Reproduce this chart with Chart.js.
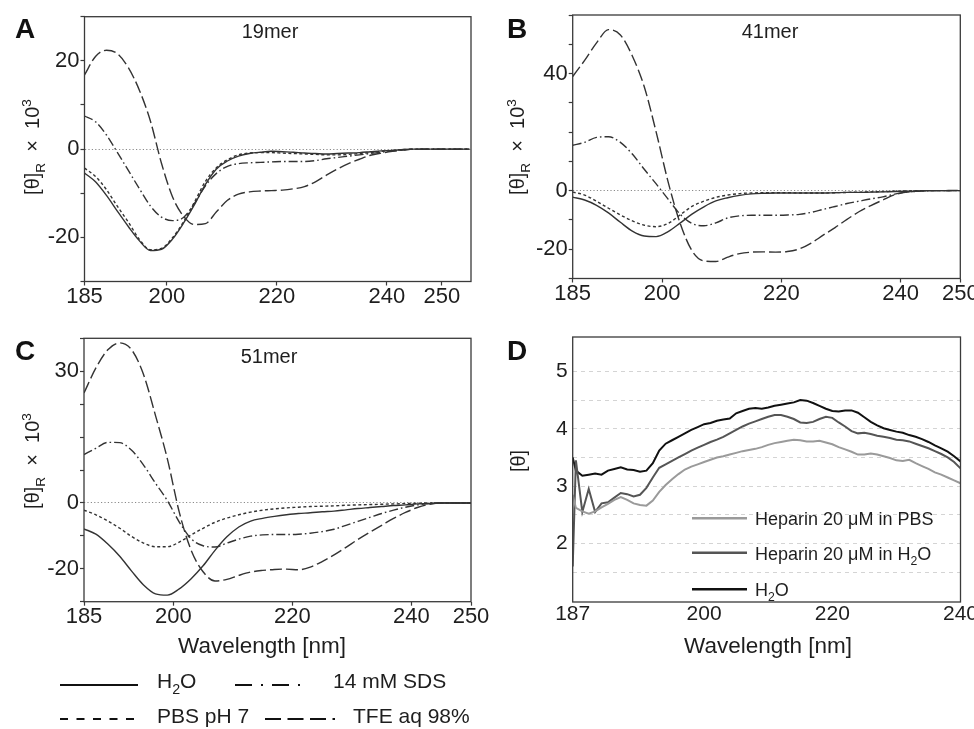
<!DOCTYPE html>
<html><head><meta charset="utf-8">
<script src="https://cdn.jsdelivr.net/npm/chart.js@4.4.1/dist/chart.umd.min.js"></script>
<style>
html,body{margin:0;padding:0;background:#fff;}
body{width:974px;height:729px;position:relative;overflow:hidden;}
canvas{position:absolute;}
</style></head><body>
<canvas id="cA"></canvas><canvas id="cB"></canvas><canvas id="cC"></canvas><canvas id="cD"></canvas>
<script>
// ================= DATA =================
const wavelengthsA = [185,187,189,191,193,195,197,199,201,203,205,207,209,211,213,215,217,219,221,223,225,227,229,231,233,235,237,239,241,243,245,247,249,251,253,255];
const wavelengthsBC = [185,187,189,191,193,195,197,199,201,203,205,207,209,211,213,215,217,219,221,223,225,227,229,231,233,235,237,239,241,243,245,247,249,250];
const wavelengthsD = [179.5,180,181,182,183,184,185,186,187,188,189,190,191,192,193,194,195,196,197,198,199,200,201,202,203,204,205,206,207,208,209,210,211,212,213,214,215,216,217,218,219,220,221,222,223,224,225,226,227,228,229,230,231,232,233,234,235,236,237,238,239,240];

// Panel A: 19mer
const a19_H2O = [-5.4,-7.4,-10.5,-14.1,-17.6,-20.8,-23.0,-22.7,-20.4,-16.8,-12.6,-8.0,-4.5,-2.7,-1.6,-1.0,-0.7,-0.5,-0.6,-0.7,-0.9,-1.0,-1.1,-1.0,-0.9,-0.8,-0.6,-0.4,-0.3,-0.1,0,0,0,0,0,0];
const a19_PBS = [-4.3,-6.2,-9.2,-13.0,-16.6,-20.5,-22.8,-22.5,-20.1,-16.5,-12.0,-7.3,-4.2,-2.4,-1.3,-0.9,-0.8,-0.8,-0.9,-1.0,-1.1,-1.2,-1.3,-1.3,-1.2,-1.0,-0.8,-0.5,-0.3,-0.1,0,0,0,0,0,0];
const a19_SDS = [7.5,6.2,3.2,-0.8,-4.9,-9.0,-12.9,-15.4,-16.2,-15.5,-12.3,-8.3,-5.5,-3.9,-3.3,-3.1,-3.0,-2.9,-2.8,-2.8,-2.8,-2.6,-2.2,-1.9,-1.6,-1.3,-1.0,-0.7,-0.4,-0.2,0,0,0,0,0,0];
const a19_TFE = [16.8,21.0,22.4,21.6,18.4,13.3,6.3,-3.2,-10.8,-15.2,-17.1,-16.9,-14.2,-11.6,-10.2,-9.7,-9.5,-9.4,-9.3,-9.0,-8.5,-7.4,-5.9,-4.5,-3.3,-2.3,-1.4,-0.9,-0.5,-0.2,0,0,0,0,0,0];

// Panel B: 41mer
const b41_H2O = [-2.2,-3.2,-5.0,-7.6,-10.8,-13.8,-15.5,-15.7,-14.0,-11.1,-8.0,-5.5,-3.5,-2.4,-1.6,-1.1,-0.9,-0.8,-0.8,-0.8,-0.8,-0.8,-0.7,-0.6,-0.6,-0.5,-0.4,-0.3,-0.2,-0.1,0,0,0,0];
const b41_PBS = [-0.5,-1.5,-3.6,-6.0,-8.3,-10.3,-11.8,-12.3,-11.2,-8.3,-5.4,-3.6,-2.3,-1.5,-1.0,-0.8,-0.7,-0.7,-0.7,-0.8,-0.8,-0.8,-0.7,-0.6,-0.5,-0.4,-0.3,-0.2,-0.1,0,0,0,0,0];
const b41_SDS = [15.5,16.5,18.2,18.4,16.5,12.5,7.3,2.3,-2.9,-8.0,-11.2,-12.0,-11.0,-9.3,-8.6,-8.4,-8.4,-8.4,-8.3,-8.1,-7.4,-6.4,-5.4,-4.4,-3.6,-2.8,-2.1,-1.2,-0.5,-0.2,0,0,0,0];
const b41_TFE = [39,44.5,50.5,55,53.2,46,35.5,20,3,-11,-20.5,-24,-24.2,-22.7,-21.5,-21.0,-20.9,-21.0,-20.8,-19.9,-17.9,-15.2,-12.6,-9.8,-7.2,-5.1,-3.2,-1.4,-0.5,-0.2,0,0,0.1,0.1];

// Panel C: 51mer
const c51_H2O = [-7.9,-9.5,-12.5,-16.2,-20.7,-24.9,-27.6,-28.0,-26.1,-23.0,-19.1,-14.4,-10.3,-7.3,-5.5,-4.7,-4.1,-3.6,-3.2,-3.0,-2.7,-2.5,-2.1,-1.7,-1.4,-1.1,-0.8,-0.6,-0.3,-0.2,0,0,0,0];
const c51_PBS = [-2.2,-3.6,-5.5,-7.7,-10.2,-12.2,-13.3,-13.3,-11.9,-9.7,-7.7,-5.9,-4.6,-3.6,-2.8,-2.2,-1.8,-1.5,-1.3,-1.1,-1.0,-0.9,-0.7,-0.6,-0.5,-0.4,-0.3,-0.2,-0.1,0,0,0,0,0];
const c51_SDS = [14.7,16.6,18.4,18.3,16.0,11.5,6.0,0.7,-5.8,-10.9,-13.0,-13.4,-12.2,-11.0,-10.1,-9.7,-9.6,-9.6,-9.5,-9.2,-8.7,-8.0,-6.8,-5.6,-4.4,-3.2,-2.2,-1.3,-0.6,-0.2,0,0,0,0];
const c51_TFE = [33.4,41,46.5,48.6,46.5,39,26.6,13.4,-2.8,-14.4,-20.9,-23.7,-23.2,-22.0,-21.0,-20.5,-20.2,-20.1,-20.3,-19.5,-17.8,-15.8,-13.5,-11.1,-8.9,-6.8,-4.7,-2.9,-1.4,-0.4,0,0,0,0];

// Panel D: heparin
const d_H2O = [3.50,3.27,3.18,3.20,3.22,3.20,3.27,3.30,3.33,3.29,3.28,3.25,3.27,3.40,3.62,3.74,3.80,3.86,3.92,3.98,4.03,4.08,4.10,4.14,4.16,4.18,4.27,4.31,4.35,4.36,4.35,4.37,4.40,4.42,4.44,4.46,4.50,4.49,4.45,4.40,4.35,4.31,4.30,4.32,4.32,4.28,4.20,4.12,4.06,4.01,3.98,3.95,3.93,3.89,3.86,3.82,3.77,3.71,3.66,3.60,3.52,3.43];
const d_HepH2O = [1.60,3.45,2.55,2.95,2.55,2.70,2.72,2.80,2.88,2.86,2.82,2.85,2.97,3.15,3.32,3.38,3.44,3.50,3.56,3.62,3.67,3.72,3.77,3.81,3.86,3.92,3.98,4.04,4.09,4.13,4.17,4.21,4.24,4.24,4.21,4.17,4.11,4.10,4.12,4.17,4.21,4.19,4.11,4.04,3.96,3.92,3.93,3.91,3.88,3.86,3.84,3.81,3.80,3.78,3.74,3.70,3.66,3.61,3.56,3.50,3.42,3.31];
const d_HepPBS = [2.85,2.62,2.56,2.52,2.56,2.63,2.69,2.76,2.81,2.76,2.70,2.67,2.66,2.75,2.90,3.02,3.12,3.21,3.29,3.34,3.38,3.42,3.46,3.50,3.52,3.55,3.58,3.61,3.63,3.65,3.68,3.72,3.75,3.77,3.79,3.81,3.80,3.78,3.78,3.79,3.76,3.73,3.68,3.64,3.60,3.55,3.55,3.57,3.55,3.52,3.49,3.45,3.44,3.46,3.40,3.35,3.30,3.24,3.20,3.15,3.10,3.05];

// Ticks
const xTickValsABC = [185,200,220,240,250];
const xTickTextABC = ['185','200','220','240','250'];
const xTickValsD = [179.5,200,220,240];
const xTickTextD = ['187','200','220','240'];
const yTickValsA = [-30,-20,-10,0,10,20,30];
const yTickTextA = ['','-20','','0','','20',''];
const yTickValsB = [-30,-20,-10,0,10,20,30,40,50,60];
const yTickTextB = ['','-20','','0','','','','40','',''];
const yTickValsC = [-30,-20,-10,0,10,20,30,40,50];
const yTickTextC = ['','-20','','0','','','','30',''];
const yTickValsD = [1.5,2,2.5,3,3.5,4,4.5,5];
const yTickTextD = ['','2','','3','','4','','5'];

const seriesNamesABC = ['H2O','PBS pH 7','14 mM SDS','TFE aq 98%'];
const seriesNamesD = ['Heparin 20 μM in PBS','Heparin 20 μM in H2O','H2O'];

// ================= RENDER =================
const FONT = '"Liberation Sans", Arial, Helvetica, sans-serif';
const INK = '#1e1e1e';
const BOX = '#3a3a3a';
const LINE = '#333333';
Chart.defaults.font.family = FONT;

function drawRich(ctx, it) {
  const size = it.size, weight = it.bold ? 'bold ' : '';
  const fontOf = s => weight + s + 'px ' + FONT;
  const parts = it.parts.map(p => ({t: p[0], k: p[1] || 0}));
  ctx.save();
  ctx.fillStyle = it.color || INK;
  ctx.textBaseline = 'alphabetic'; ctx.textAlign = 'left';
  let total = 0;
  parts.forEach(p => { p.s = p.k ? size * 0.68 : size; ctx.font = fontOf(p.s); p.w = ctx.measureText(p.t).width; total += p.w; });
  ctx.translate(it.x, it.y);
  if (it.rot) ctx.rotate(it.rot);
  let x = it.align === 'left' ? 0 : (it.align === 'right' ? -total : -total / 2);
  parts.forEach(p => {
    ctx.font = fontOf(p.s);
    const dy = p.k === 1 ? size * 0.28 : (p.k === 2 ? -size * 0.42 : 0);
    ctx.fillText(p.t, x, dy); x += p.w;
  });
  ctx.restore();
}

function decorPlugin(rect, items) {
  return { id: 'decor', afterDraw(chart) {
    const ctx = chart.ctx;
    ctx.save(); ctx.translate(-rect.x, -rect.y);
    for (const it of items) {
      if (it.line) {
        ctx.save(); ctx.strokeStyle = it.color; ctx.lineWidth = it.width; ctx.setLineDash(it.dash || []);
        ctx.beginPath(); ctx.moveTo(it.line[0], it.line[2]); ctx.lineTo(it.line[1], it.line[2]); ctx.stroke(); ctx.restore();
      } else drawRich(ctx, it);
    }
    ctx.restore();
  }};
}
const boxPlugin = { id: 'box', afterDatasetsDraw(chart) {
  const a = chart.chartArea, ctx = chart.ctx;
  ctx.save(); ctx.strokeStyle = BOX; ctx.lineWidth = 1.3; ctx.setLineDash([]);
  ctx.strokeRect(a.left, a.top, a.right - a.left, a.bottom - a.top); ctx.restore();
}};

function panel(id, rect, area, o) {
  const cv = document.getElementById(id);
  cv.width = rect.w; cv.height = rect.h;
  cv.style.left = rect.x + 'px'; cv.style.top = rect.y + 'px';
  cv.style.width = rect.w + 'px'; cv.style.height = rect.h + 'px';
  const yW = 60, xH = 30;
  const pad = { left: area.l - rect.x - yW, top: area.t - rect.y, right: rect.x + rect.w - area.r, bottom: rect.y + rect.h - area.b - xH };
  return new Chart(cv, {
    type: 'line',
    data: { datasets: o.datasets },
    options: {
      responsive: false, animation: false, events: [],
      layout: { padding: pad },
      plugins: { legend: { display: false }, tooltip: { enabled: false }, title: { display: false } },
      scales: {
        x: {
          type: 'linear', min: o.xMin, max: o.xMax,
          afterBuildTicks: s => { s.ticks = o.xTicks.map(v => ({ value: v })); },
          afterFit: s => { s.height = xH; s.paddingLeft = 0; s.paddingRight = 0; },
          ticks: { autoSkip: false, maxRotation: 0, minRotation: 0, padding: o.xPad, color: INK,
                   font: { family: FONT, size: o.tickSize, lineHeight: 1 }, callback: (v, i) => o.xText[i] },
          grid: { display: true, drawOnChartArea: false, drawTicks: o.tickLen > 0, tickLength: o.tickLen,
                  tickColor: BOX, tickWidth: 1.2, tickBorderDash: [], color: 'rgba(0,0,0,0)' },
          border: { display: false }
        },
        y: {
          type: 'linear', min: o.yMin, max: o.yMax,
          afterBuildTicks: s => { s.ticks = o.yTicks.map(v => ({ value: v })); },
          afterFit: s => { s.width = yW; s.paddingTop = 0; s.paddingBottom = 0; },
          ticks: { autoSkip: false, padding: o.yPad, color: INK,
                   font: { family: FONT, size: o.tickSize, lineHeight: 1 }, callback: (v, i) => o.yText[i] },
          grid: { display: true, drawOnChartArea: true, color: o.gridColor, lineWidth: 1,
                  drawTicks: o.tickLen > 0, tickLength: o.tickLen, tickColor: BOX, tickWidth: 1.2, tickBorderDash: [] },
          border: { display: false, dash: o.gridDash }
        }
      }
    },
    plugins: [boxPlugin, decorPlugin(rect, o.decor)]
  });
}

const DASH = { H2O: [], PBS: [3, 2.5], SDS: [9, 3, 1.6, 3], TFE: [12, 4] };
function cdSets(wl, h2o, pbs, sds, tfe) {
  const mk = (label, vals, dash) => ({
    label, data: wl.map((x, i) => ({ x, y: vals[i] })),
    borderColor: LINE, borderWidth: 1.4, borderDash: dash, pointRadius: 0, fill: false,
    tension: 0.4, cubicInterpolationMode: 'monotone'
  });
  return [mk(seriesNamesABC[0], h2o, DASH.H2O), mk(seriesNamesABC[1], pbs, DASH.PBS),
          mk(seriesNamesABC[2], sds, DASH.SDS), mk(seriesNamesABC[3], tfe, DASH.TFE)];
}
const zeroDotted = c => (c.tick && c.tick.value === 0) ? '#8a8a8a' : 'rgba(0,0,0,0)';
const yLab = [['[θ]', 0], ['R', 1], ['  ×  ', 0], ['10', 0], ['3', 2]];
const ROT = -Math.PI / 2;

// Panel A
panel('cA', { x: 0, y: 0, w: 490, h: 318 }, { l: 84.5, t: 16.7, r: 471, b: 281.5 }, {
  datasets: cdSets(wavelengthsA, a19_H2O, a19_PBS, a19_SDS, a19_TFE),
  xMin: 185, xMax: 255.3, yMin: -30, yMax: 30,
  xTicks: xTickValsABC, xText: xTickTextABC, yTicks: yTickValsA, yText: yTickTextA,
  tickSize: 22, tickLen: 4, xPad: 0, yPad: 1, gridColor: zeroDotted, gridDash: [1.2, 2.2],
  decor: [
    { parts: [['A']], x: 15, y: 38, size: 28, bold: true, align: 'left', color: '#111' },
    { parts: [['19mer']], x: 270, y: 38, size: 20, align: 'center' },
    { parts: yLab, x: 39, y: 147, size: 20, rot: ROT, align: 'center' }
  ]
});

// Panel B
panel('cB', { x: 490, y: 0, w: 484, h: 318 }, { l: 572.7, t: 15, r: 960.3, b: 278.5 }, {
  datasets: cdSets(wavelengthsBC, b41_H2O, b41_PBS, b41_SDS, b41_TFE),
  xMin: 185, xMax: 250, yMin: -30, yMax: 60,
  xTicks: xTickValsABC, xText: xTickTextABC, yTicks: yTickValsB, yText: yTickTextB,
  tickSize: 22, tickLen: 4, xPad: 0, yPad: 1, gridColor: zeroDotted, gridDash: [1.2, 2.2],
  decor: [
    { parts: [['B']], x: 507, y: 38, size: 28, bold: true, align: 'left', color: '#111' },
    { parts: [['41mer']], x: 770, y: 37.5, size: 20, align: 'center' },
    { parts: yLab, x: 524, y: 147, size: 20, rot: ROT, align: 'center' }
  ]
});

// Panel C (+ shared line-style legend)
panel('cC', { x: 0, y: 318, w: 490, h: 411 }, { l: 84, t: 338.3, r: 471, b: 601.7 }, {
  datasets: cdSets(wavelengthsBC, c51_H2O, c51_PBS, c51_SDS, c51_TFE),
  xMin: 185, xMax: 250, yMin: -30, yMax: 50,
  xTicks: xTickValsABC, xText: xTickTextABC, yTicks: yTickValsC, yText: yTickTextC,
  tickSize: 22, tickLen: 4, xPad: 0, yPad: 1, gridColor: zeroDotted, gridDash: [1.2, 2.2],
  decor: [
    { parts: [['C']], x: 15, y: 360, size: 28, bold: true, align: 'left', color: '#111' },
    { parts: [['51mer']], x: 269, y: 363, size: 20, align: 'center' },
    { parts: yLab, x: 39, y: 461, size: 20, rot: ROT, align: 'center' },
    { parts: [['Wavelength [nm]']], x: 262, y: 653, size: 22.5, align: 'center' },
    { line: [60, 138, 685], dash: [], color: '#111', width: 2.2 },
    { parts: [['H'], ['2', 1], ['O']], x: 157, y: 688, size: 21, align: 'left' },
    { line: [235, 305, 685], dash: [17, 9, 2, 9], color: '#111', width: 2.2 },
    { parts: [['14 mM SDS']], x: 333, y: 688, size: 21, align: 'left' },
    { line: [60, 138, 719], dash: [8, 8.5], color: '#111', width: 2.2 },
    { parts: [['PBS pH 7']], x: 157, y: 723, size: 21, align: 'left' },
    { line: [265, 335, 719], dash: [16, 6.5], color: '#111', width: 2.2 },
    { parts: [['TFE aq 98%']], x: 353, y: 723, size: 21, align: 'left' }
  ]
});

// Panel D
const dColors = ['#9a9a9a', '#555555', '#111111'];
const dSets = [d_HepPBS, d_HepH2O, d_H2O].map((vals, k) => ({
  label: seriesNamesD[k], data: wavelengthsD.map((x, i) => ({ x, y: vals[i] })),
  borderColor: dColors[k], borderWidth: 2, pointRadius: 0, fill: false, tension: 0
}));
panel('cD', { x: 490, y: 318, w: 484, h: 411 }, { l: 572.7, t: 337, r: 960.5, b: 602 }, {
  datasets: dSets,
  xMin: 179.5, xMax: 240, yMin: 0.98, yMax: 5.6,
  xTicks: xTickValsD, xText: xTickTextD, yTicks: yTickValsD, yText: yTickTextD,
  tickSize: 21, tickLen: 0, xPad: 1.5, yPad: 5, gridColor: '#d4d4d4', gridDash: [4, 4],
  decor: [
    { parts: [['D']], x: 507, y: 360, size: 28, bold: true, align: 'left', color: '#111' },
    { parts: [['[θ]']], x: 525, y: 461, size: 20, rot: ROT, align: 'center' },
    { parts: [['Wavelength [nm]']], x: 768, y: 653, size: 22.5, align: 'center' },
    { line: [692, 747, 518.3], dash: [], color: dColors[0], width: 2.5 },
    { parts: [['Heparin 20 μM in PBS']], x: 755, y: 525, size: 18, align: 'left' },
    { line: [692, 747, 552.7], dash: [], color: dColors[1], width: 2.5 },
    { parts: [['Heparin 20 μM in H'], ['2', 1], ['O']], x: 755, y: 559.5, size: 18, align: 'left' },
    { line: [692, 747, 589.3], dash: [], color: dColors[2], width: 2.5 },
    { parts: [['H'], ['2', 1], ['O']], x: 755, y: 596, size: 18, align: 'left' }
  ]
});
</script>
</body></html>
